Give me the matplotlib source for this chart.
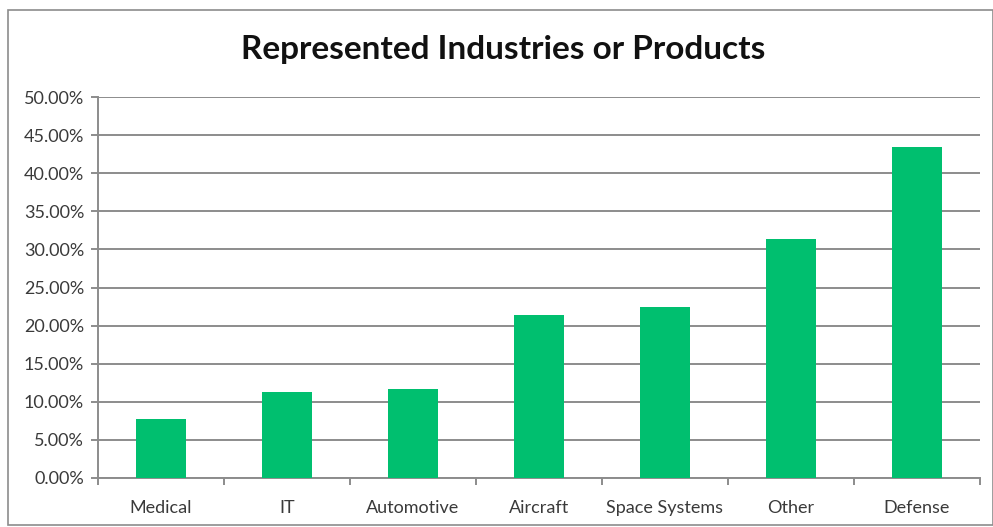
import matplotlib.pyplot as plt
import numpy as np
from matplotlib.patches import Rectangle
from matplotlib.ticker import FuncFormatter, FixedLocator

CATEGORIES = ["Medical", "IT", "Automotive", "Aircraft", "Space Systems", "Other", "Defense"]
SHARES = [7.75, 11.35, 11.7, 21.4, 22.45, 31.4, 43.45]  # percent
Y_TICKS = [0, 5, 10, 15, 20, 25, 30, 35, 40, 45, 50]

plt.rcParams['font.family'] = ['Lato', 'DejaVu Sans']

fig = plt.figure(figsize=(9.93, 5.27), dpi=100)
ax = fig.add_axes([98 / 993, 1 - 478 / 527, (980 - 98) / 993, (478 - 97) / 527])

x = np.arange(len(CATEGORIES))
ax.bar(x, SHARES, width=0.4, color="#00BF6F", zorder=3)

ax.set_xlim(-0.5, len(CATEGORIES) - 0.5)
ax.set_ylim(0, 50)
ax.set_yticks(Y_TICKS)
ax.yaxis.set_major_formatter(FuncFormatter(lambda v, _: f"{v:.2f}%"))
ax.grid(axis="y", color="#8c8c8c", linewidth=1.4, zorder=0)

# category boundaries get the ticks, names sit in between
ax.xaxis.set_major_locator(FixedLocator(np.arange(-0.5, len(CATEGORIES), 1.0)))
ax.xaxis.set_major_formatter(FuncFormatter(lambda v, _: ""))
ax.set_xticks(x, minor=True)
ax.set_xticklabels(CATEGORIES, minor=True)
ax.tick_params(axis="x", which="major", length=5, width=1.4, color="#8c8c8c", direction="out")
ax.tick_params(axis="x", which="minor", length=0, pad=16, labelsize=13, labelcolor="#3a3a3a")
ax.tick_params(axis="y", length=5, width=1.4, color="#8c8c8c", pad=5, labelsize=13, labelcolor="#3a3a3a")

for side in ["top", "right"]:
    ax.spines[side].set_visible(False)
for side in ["left", "bottom"]:
    ax.spines[side].set_color("#8c8c8c")
    ax.spines[side].set_linewidth(1.4)

fig.text(0.507, 1 - 49 / 527, "Represented Industries or Products", ha="center", va="center",
         fontsize=24, fontweight="bold", color="#111111")

fig.patches.append(Rectangle((8 / 993, 2 / 527), 985 / 993, 515 / 527, transform=fig.transFigure,
                             fill=False, edgecolor="#8c8c8c", linewidth=1.2))

fig.savefig("out.png", dpi=100)
